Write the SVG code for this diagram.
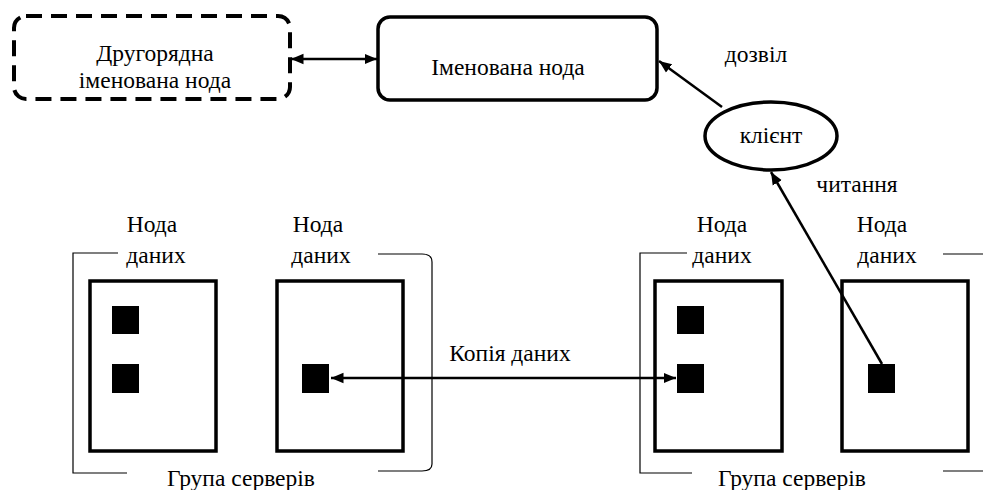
<svg xmlns="http://www.w3.org/2000/svg" width="983" height="490" viewBox="0 0 983 490">
<style>
text{font-family:"Liberation Serif","Times New Roman",serif;font-size:23.5px;fill:#000;text-anchor:middle}
.box{fill:#fff;stroke:#000;stroke-width:3.5}
.blk{fill:#000}
.con{fill:none;stroke:#000;stroke-width:2.5}
.br{fill:none;stroke:#000;stroke-width:1.2}
</style>
<defs>
<marker id="ah" viewBox="0 0 10 10" refX="10" refY="5" markerWidth="5" markerHeight="5" orient="auto-start-reverse" markerUnits="strokeWidth">
<path d="M0,0.8 L10,5 L0,9.2 z" fill="#000"/>
</marker>
</defs>
<rect width="983" height="490" fill="#fff"/>
<g id="secondary">
<rect x="14" y="16" width="276" height="83" rx="12" fill="#fff" stroke="#000" stroke-width="4" stroke-dasharray="16,9"/>
<text x="155" y="61">Другорядна</text>
<text x="155" y="88">іменована нода</text>
</g>
<g id="namenode">
<rect x="378" y="17" width="279" height="83" rx="12" class="box"/>
<text x="508" y="75">Іменована нода</text>
</g>
<g id="client">
<ellipse cx="771" cy="136" rx="66" ry="34" class="box"/>
<text x="771" y="143">клієнт</text>
</g>
<g id="group1">
<path class="br" d="M118,253 H73 V473 H127"/>
<path class="br" d="M378,254 H422 Q432,254 432,262 V464 Q432,471 422,471 H378"/>
<text x="241" y="486">Група серверів</text>
</g>
<g id="dn1">
<rect x="90" y="281" width="126" height="170" class="box"/>
<rect x="112" y="306" width="27" height="28" class="blk"/>
<rect x="112" y="364" width="27" height="29" class="blk"/>
<text x="152" y="232">Нода</text>
<text x="156" y="263">даних</text>
</g>
<g id="dn2">
<rect x="277" y="281" width="126" height="170" class="box"/>
<rect x="302" y="364" width="27" height="29" class="blk"/>
<text x="318" y="232">Нода</text>
<text x="321" y="263">даних</text>
</g>
<g id="group2">
<path class="br" d="M687,253 H640 V473 H692"/>
<path class="br" d="M943,254 H983"/>
<path class="br" d="M943,471 H983"/>
<text x="792" y="486">Група серверів</text>
</g>
<g id="dn3">
<rect x="655" y="281" width="127" height="170" class="box"/>
<rect x="677" y="306" width="27" height="28" class="blk"/>
<rect x="677" y="364" width="27" height="29" class="blk"/>
<text x="722" y="232">Нода</text>
<text x="722" y="263">даних</text>
</g>
<g id="dn4">
<rect x="842" y="281" width="126" height="170" class="box"/>
<rect x="868" y="364" width="27" height="29" class="blk"/>
<text x="882" y="232">Нода</text>
<text x="887" y="263">даних</text>
</g>
<g id="connectors">
<line x1="291" y1="59" x2="377" y2="59" class="con" marker-start="url(#ah)" marker-end="url(#ah)"/>
<line x1="722" y1="107" x2="659" y2="61" class="con" marker-end="url(#ah)"/>
<line x1="882" y1="364" x2="771" y2="172" class="con" marker-end="url(#ah)"/>
<line x1="331" y1="378" x2="676" y2="378" class="con" marker-start="url(#ah)" marker-end="url(#ah)"/>
<text x="510" y="361">Копія даних</text>
<text x="756" y="62">дозвіл</text>
<text x="857" y="192">читання</text>
</g>
</svg>
